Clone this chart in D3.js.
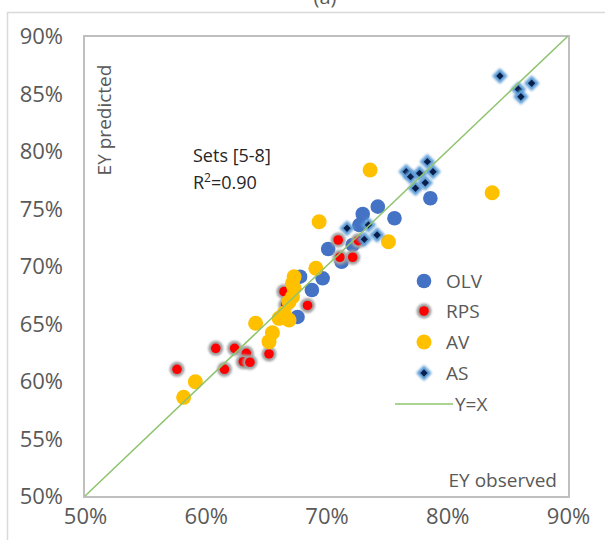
<!DOCTYPE html>
<html>
<head>
<meta charset="utf-8">
<script src="https://cdn.jsdelivr.net/npm/d3@7"></script>
<style>
  body { margin: 0; background: #fff; }
  svg { display: block; font-family: "Open Sans", "Noto Sans", sans-serif; }
</style>
</head>
<body>
<svg id="chart" width="605" height="540"></svg>
<script>
// observed / predicted EY
const olv = [
  [74.25, 75.16], [73.0, 74.52], [75.63, 74.15], [78.6, 75.89], [72.72, 73.56],
  [70.14, 71.48], [72.17, 71.83], [71.25, 70.37], [67.81, 69.07], [69.68, 68.93],
  [68.79, 67.91], [67.6, 65.57]
];
const rps = [
  [57.62, 61.02], [60.83, 62.84], [62.39, 62.84], [63.36, 62.41], [63.11, 61.68],
  [63.66, 61.63], [61.55, 61.02], [65.24, 62.35], [66.48, 67.77], [66.63, 66.61],
  [68.43, 66.57], [70.97, 72.26], [72.64, 72.2], [71.11, 70.76], [72.17, 70.76]
];
const av = [
  [59.14, 59.94], [58.17, 58.58], [64.13, 65.02], [65.52, 64.2], [65.24, 63.42],
  [66.07, 65.45], [66.48, 65.89], [66.9, 65.3], [66.9, 66.9], [67.18, 67.33],
  [67.32, 68.06], [67.18, 68.5], [67.32, 69.07], [69.12, 69.8], [69.39, 73.85],
  [73.61, 78.35], [75.13, 72.11], [83.72, 76.37]
];
const as = [
  [84.36, 86.52], [86.99, 85.89], [85.89, 85.37], [86.1, 84.72], [76.6, 78.2],
  [76.96, 77.77], [77.71, 78.06], [78.35, 79.07], [78.82, 78.2], [78.18, 77.24],
  [77.37, 76.76], [71.7, 73.28], [73.47, 73.57], [73.13, 72.32], [74.19, 72.7]
];
const xTicks = [0.5, 0.6, 0.7, 0.8, 0.9];
const yTicks = [0.5, 0.55, 0.6, 0.65, 0.7, 0.75, 0.8, 0.85, 0.9];
const legendNames = ["OLV", "RPS", "AV", "AS", "Y=X"];

const svg = d3.select("#chart");
const grey = "#595959";

const x = d3.scaleLinear().domain([0.5, 0.9]).range([85, 568]);
const y = d3.scaleLinear().domain([0.5, 0.9]).range([496, 36]);

// filters for the soft marker edges
const defs = svg.append("defs");
defs.append("filter").attr("id", "soft").attr("x", "-50%").attr("y", "-50%")
  .attr("width", "200%").attr("height", "200%")
  .append("feGaussianBlur").attr("stdDeviation", 1.1);

// outer chart frame + title
svg.append("rect").attr("x", 7.5).attr("y", 12.5).attr("width", 620).attr("height", 560)
  .attr("fill", "none").attr("stroke", "#d9d9d9").attr("stroke-width", 1.5);
svg.append("text").attr("x", 325).attr("y", 4).attr("text-anchor", "middle")
  .attr("font-size", 20).attr("fill", grey).text("(a)");

// plot box
svg.append("rect").attr("x", 84).attr("y", 36).attr("width", 485).attr("height", 461)
  .attr("fill", "none").attr("stroke", "#bfbfbf").attr("stroke-width", 2);

// axes
const pct = d3.format(".0%");
const gx = svg.append("g").attr("transform", "translate(0,508)")
  .call(d3.axisBottom(x).tickValues(xTicks).tickFormat(pct).tickSize(0).tickPadding(0));
const gy = svg.append("g").attr("transform", "translate(63,0)")
  .call(d3.axisLeft(y).tickValues(yTicks).tickFormat(pct).tickSize(0).tickPadding(0));
[gx, gy].forEach(g => {
  g.select(".domain").remove();
  g.selectAll("text").attr("font-size", 22).attr("fill", grey)
    .attr("font-family", "'Open Sans', sans-serif");
});
gy.selectAll("text").attr("dy", "0.35em");

// axis titles inside the box
svg.append("text").attr("transform", "translate(111,120) rotate(-90)")
  .attr("text-anchor", "middle").attr("font-size", 19).attr("fill", grey).text("EY predicted");
svg.append("text").attr("x", 557).attr("y", 487).attr("text-anchor", "end")
  .attr("font-size", 19).attr("fill", grey).text("EY observed");

// annotation
const note = svg.append("text").attr("font-size", 18).attr("fill", "#262626");
note.append("tspan").attr("x", 193).attr("y", 162).text("Sets [5-8]");
const r2 = svg.append("text").attr("x", 193).attr("y", 189).attr("font-size", 18).attr("fill", "#262626");
r2.append("tspan").text("R");
r2.append("tspan").attr("font-size", 12).attr("dy", -7).text("2");
r2.append("tspan").attr("dy", 7).text("=0.90");

// marker drawers
function drawOLV(g) {
  g.append("circle").attr("r", 7.3).attr("fill", "#4472c4");
}
function drawRPS(g) {
  g.append("circle").attr("r", 7.5).attr("fill", "#a0a0a0").attr("filter", "url(#soft)");
  g.append("circle").attr("r", 4.8).attr("fill", "#ff0000");
}
function drawAV(g) {
  g.append("circle").attr("r", 7.5).attr("fill", "#ffc000");
}
const diamond = d3.symbol().type(d3.symbolDiamond2 || d3.symbolSquare);
function drawAS(g) {
  g.append("rect").attr("x", -5.5).attr("y", -5.5).attr("width", 11).attr("height", 11)
    .attr("transform", "rotate(45)").attr("fill", "#5b9bd5").attr("filter", "url(#soft)");
  g.append("rect").attr("x", -2.6).attr("y", -2.6).attr("width", 5.2).attr("height", 5.2)
    .attr("transform", "rotate(45)").attr("fill", "#0b1f4d");
}

const series = [
  { data: olv, draw: drawOLV },
  { data: rps, draw: drawRPS },
  { data: av, draw: drawAV },
  { data: as, draw: drawAS }
];

series.forEach(s => {
  svg.append("g").selectAll("g").data(s.data).join("g")
    .attr("transform", d => `translate(${x(d[0] / 100)},${y(d[1] / 100)})`)
    .each(function () { s.draw(d3.select(this)); });
});

// Y = X line
svg.append("line")
  .attr("x1", x(0.5)).attr("y1", y(0.5)).attr("x2", x(0.9)).attr("y2", y(0.9))
  .attr("stroke", "#8fc46e").attr("stroke-width", 1.5);

// legend
const legY = [281, 311, 342, 373, 404];
const drawers = [drawOLV, drawRPS, drawAV, drawAS];
legendNames.forEach((name, i) => {
  const g = svg.append("g").attr("transform", `translate(424,${legY[i]})`);
  if (i < 4) drawers[i](g);
  else g.append("line").attr("x1", -29).attr("x2", 29).attr("stroke", "#8fc46e").attr("stroke-width", 1.5);
  svg.append("text").attr("x", i < 4 ? 446 : 455).attr("y", legY[i]).attr("dy", "0.35em")
    .attr("font-size", 19).attr("fill", grey).text(name);
});
</script>
</body>
</html>
